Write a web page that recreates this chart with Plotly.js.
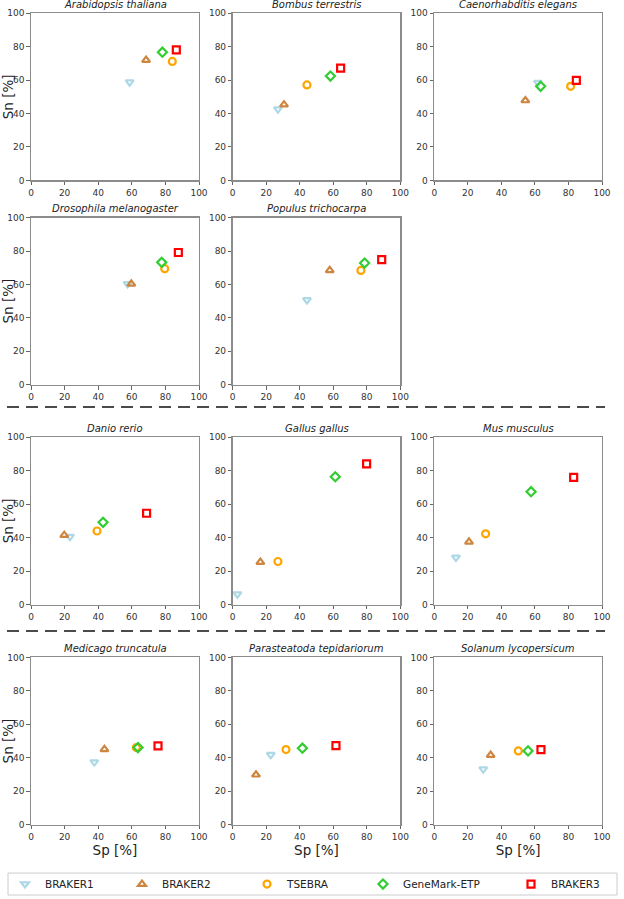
<!DOCTYPE html>
<html><head><meta charset="utf-8">
<script src="https://cdn.plot.ly/plotly-3.0.1.min.js"></script>
<style>html,body{margin:0;padding:0;background:#fff}</style>
</head><body><div id="chart" style="width:624px;height:899px"></div>
<script>
// ---- data ----
const species = ["Arabidopsis thaliana","Bombus terrestris","Caenorhabditis elegans","Drosophila melanogaster","Populus trichocarpa","Danio rerio","Gallus gallus","Mus musculus","Medicago truncatula","Parasteatoda tepidariorum","Solanum lycopersicum"];
const methods = ["BRAKER1","BRAKER2","TSEBRA","GeneMark-ETP","BRAKER3"];
const braker1Sp = [58.7, 27.0, 61.8, 57.5, 44.3, 23.2, 2.8, 12.9, 37.7, 22.7, 29.2];
const braker1Sn = [58.8, 42.6, 58.5, 60.3, 50.7, 40.6, 6.3, 28.2, 37.4, 41.8, 33.2];
const braker2Sp = [68.5, 30.6, 54.3, 59.7, 57.9, 19.8, 16.5, 20.7, 43.7, 13.9, 33.6];
const braker2Sn = [72.0, 45.3, 47.8, 60.3, 68.4, 41.5, 25.4, 37.5, 45.0, 29.8, 41.6];
const tsebraSp  = [84.1, 44.3, 81.3, 79.6, 76.5, 39.3, 27.0, 30.6, 62.7, 31.8, 50.1];
const tsebraSn  = [71.2, 57.1, 56.3, 69.4, 68.4, 44.0, 25.8, 42.3, 46.1, 44.9, 44.1];
const gmetpSp   = [78.2, 58.3, 63.4, 77.8, 78.7, 42.9, 61.2, 57.7, 63.7, 41.6, 55.9];
const gmetpSn   = [76.7, 62.4, 56.3, 73.2, 72.8, 49.2, 76.4, 67.5, 46.1, 45.7, 44.1];
const braker3Sp = [86.5, 64.4, 84.7, 87.7, 88.9, 68.8, 79.9, 83.1, 75.6, 61.6, 63.6];
const braker3Sn = [78.1, 67.2, 59.8, 79.1, 74.8, 54.6, 84.1, 76.0, 47.1, 47.3, 44.9];
const tickVals = [0, 20, 40, 60, 80, 100];

// ---- styles ----
const series = [
  {name: methods[0], sp: braker1Sp, sn: braker1Sn, symbol: "triangle-down-open", color: "#add8e6"},
  {name: methods[1], sp: braker2Sp, sn: braker2Sn, symbol: "triangle-up-open", color: "#cd853f"},
  {name: methods[2], sp: tsebraSp,  sn: tsebraSn,  symbol: "circle-open", color: "#ffa500"},
  {name: methods[3], sp: gmetpSp,   sn: gmetpSn,   symbol: "diamond-open", color: "#32cd32"},
  {name: methods[4], sp: braker3Sp, sn: braker3Sn, symbol: "square-open", color: "#ff0000"}
];
const W = 624, H = 899;
const colX = [[31, 199], [232.7, 400.3], [434.3, 602]];
const rowY = [[13.3, 181], [218.3, 386], [438.7, 606.7], [659.7, 827.3]];
const cells = [[0,0],[0,1],[0,2],[1,0],[1,1],[2,0],[2,1],[2,2],[3,0],[3,1],[3,2]];
const legendMarkerX = [26, 143, 268, 384, 532];
const font = "DejaVu Sans, sans-serif";

const layout = {
  width: W, height: H, margin: {l: 0, r: 0, t: 0, b: 0},
  paper_bgcolor: "#fff", plot_bgcolor: "#fff",
  font: {family: font, color: "#333", size: 9},
  showlegend: true,
  annotations: [], shapes: []
};
series.forEach((s, j) => {
  const key = j === 0 ? "legend" : "legend" + (j + 1);
  layout[key] = {
    orientation: "h", x: (legendMarkerX[j] - 21) / W, y: 1 - 887 / H,
    xanchor: "left", yanchor: "middle", bgcolor: "rgba(0,0,0,0)",
    borderwidth: 0, font: {size: 10.5, color: "#222", family: font}
  };
});

const traces = [];
cells.forEach(([r, c], i) => {
  const k = i === 0 ? "" : String(i + 1);
  const xa = "xaxis" + k, ya = "yaxis" + k;
  const common = {
    range: [0, 100], tickvals: tickVals, ticks: "outside", ticklen: 3.5, tickwidth: 1,
    tickcolor: "#666", showline: true, linecolor: "#8c8c8c", linewidth: 1.3, mirror: true,
    showgrid: false, zeroline: false, fixedrange: true,
    tickfont: {size: 9, color: "#333", family: font}
  };
  layout[xa] = Object.assign({}, common, {
    domain: [colX[c][0] / W, colX[c][1] / W], anchor: "y" + k
  });
  layout[ya] = Object.assign({}, common, {
    domain: [1 - rowY[r][1] / H, 1 - rowY[r][0] / H], anchor: "x" + k
  });
  if (c === 0) layout[ya].title = {text: "Sn [%]", font: {size: 13.5, color: "#222", family: font}, standoff: 4};
  if (r === 3) layout[xa].title = {text: "Sp [%]", font: {size: 13.5, color: "#222", family: font}, standoff: 4};
  layout.annotations.push({
    text: "<i>" + species[i] + "</i>", xref: "paper", yref: "paper",
    x: (colX[c][0] + colX[c][1]) / 2 / W, y: 1 - (rowY[r][0] - 9) / H,
    xanchor: "center", yanchor: "middle", showarrow: false,
    font: {size: 10, color: "#222", family: font}
  });
  series.forEach((s, j) => {
    traces.push({
      type: "scatter", mode: "markers", x: [s.sp[i]], y: [s.sn[i]],
      xaxis: "x" + k, yaxis: "y" + k, name: s.name, legendgroup: s.name,
      legend: j === 0 ? "legend" : "legend" + (j + 1),
      showlegend: i === 0, cliponaxis: false,
      marker: {symbol: s.symbol, size: 7, color: s.color, line: {color: s.color, width: 2.2}}
    });
  });
});

[408.3, 633].forEach(yp => {
  layout.shapes.push({
    type: "line", xref: "paper", yref: "paper", x0: 7 / W, x1: 605 / W,
    y0: 1 - yp / H, y1: 1 - yp / H, line: {color: "#111", width: 1.5, dash: "12px,7px"}
  });
});
// legend frame
layout.shapes.push({
  type: "rect", xref: "paper", yref: "paper", x0: 8 / W, x1: 617 / W,
  y0: 1 - 898 / H, y1: 1 - 876 / H, line: {color: "#cccccc", width: 1}, fillcolor: "rgba(0,0,0,0)"
});

Plotly.newPlot("chart", traces, layout, {displayModeBar: false, staticPlot: true});
</script></body></html>
